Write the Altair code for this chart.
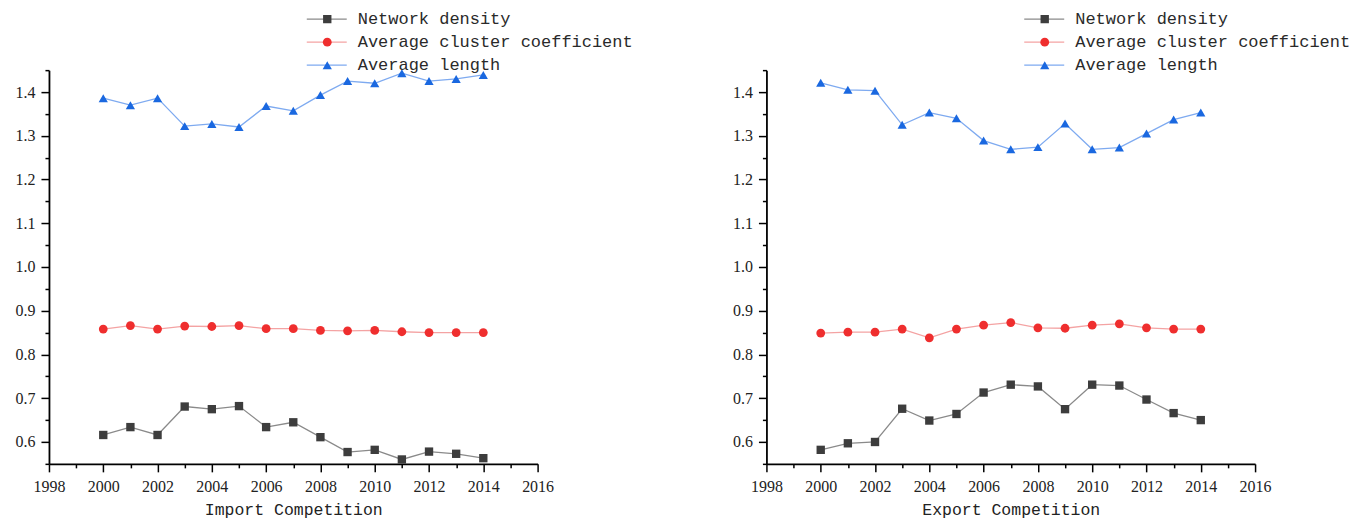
import altair as alt
import pandas as pd

years = list(range(2000, 2015))
series = ["Network density", "Average cluster coefficient", "Average length"]

imp_density = [0.616, 0.634, 0.616, 0.681, 0.675, 0.682, 0.634, 0.645, 0.611, 0.577, 0.582, 0.560, 0.578, 0.573, 0.563]
imp_cluster = [0.858, 0.866, 0.858, 0.865, 0.864, 0.866, 0.859, 0.859, 0.855, 0.854, 0.855, 0.852, 0.850, 0.850, 0.850]
imp_length = [1.386, 1.370, 1.386, 1.322, 1.327, 1.320, 1.368, 1.357, 1.393, 1.425, 1.420, 1.443, 1.425, 1.430, 1.439]

exp_density = [0.582, 0.597, 0.600, 0.676, 0.649, 0.664, 0.713, 0.731, 0.727, 0.675, 0.731, 0.729, 0.697, 0.666, 0.650]
exp_cluster = [0.849, 0.851, 0.851, 0.858, 0.838, 0.858, 0.867, 0.873, 0.861, 0.860, 0.867, 0.870, 0.861, 0.858, 0.858]
exp_length = [1.421, 1.405, 1.403, 1.325, 1.353, 1.340, 1.289, 1.269, 1.274, 1.328, 1.269, 1.273, 1.305, 1.337, 1.353]

x_ticks = list(range(1998, 2017))
y_ticks = [round(0.55 + 0.05 * i, 2) for i in range(19)]

line_colors = ["#8a8a8a", "#f4a3a3", "#7eaaf0"]
marker_colors = ["#3d3d3d", "#ef2e2e", "#1a68e0"]
shapes = ["square", "circle", "triangle-up"]
marker_sizes = [70, 85, 135]

MONO = "Liberation Mono"
SERIF = "Liberation Serif"


def make_df(d, c, l):
    rows = []
    for name, vals in zip(series, [d, c, l]):
        for y, v in zip(years, vals):
            rows.append({"year": y, "value": v, "series": name, "line_series": name})
    return pd.DataFrame(rows)


def panel(df, title):
    xaxis = alt.Axis(
        values=x_ticks,
        format="d",
        labelExpr="datum.value % 2 === 0 ? datum.label : ''",
        tickSize={"condition": {"test": "datum.value % 2 === 0", "value": 8}, "value": 4},
        grid=False,
        labelFont=SERIF,
        labelFontSize=16,
        labelColor="#222222",
        labelPadding=7,
        labelFlush=False,
        labelOverlap=False,
        domainColor="black",
        domainWidth=1.8,
        tickColor="black",
        tickWidth=1.5,
        title=title,
        titleFont=MONO,
        titleFontSize=16.5,
        titleFontWeight="normal",
        titleColor="#222222",
        titlePadding=7,
    )
    yaxis = alt.Axis(
        values=y_ticks,
        labelExpr="round(datum.value*100) % 10 === 0 ? format(datum.value, '.1f') : ''",
        tickSize={"condition": {"test": "round(datum.value*100) % 10 === 0", "value": 8}, "value": 4},
        grid=False,
        labelFont=SERIF,
        labelFontSize=16,
        labelColor="#222222",
        labelPadding=6,
        labelFlush=False,
        labelOverlap=False,
        domainColor="black",
        domainWidth=1.8,
        tickColor="black",
        tickWidth=1.5,
        title=None,
    )
    base = alt.Chart(df).encode(
        x=alt.X("year:Q", scale=alt.Scale(domain=[1998, 2016], nice=False, zero=False), axis=xaxis),
        y=alt.Y("value:Q", scale=alt.Scale(domain=[0.55, 1.45], nice=False, zero=False), axis=yaxis),
    )
    line_legend = alt.Legend(
        title=None, orient="none", legendX=257, legendY=-59.5, padding=0,
        symbolType="stroke", symbolSize=1600, symbolStrokeWidth=1.2,
        clipHeight=17, rowPadding=5, labelExpr="''",
        labelFont=MONO, labelFontSize=17,
    )
    pt_legend = alt.Legend(
        title=None, orient="none", legendX=270, legendY=-59.5, padding=0,
        symbolSize=85, symbolStrokeWidth=0, symbolOpacity=1,
        clipHeight=17, rowPadding=5, labelOffset=22, labelLimit=0,
        labelFont=MONO, labelFontSize=17, labelColor="#2a2a2a",
    )
    lines = base.mark_line(strokeWidth=1.3).encode(
        color=alt.Color("line_series:N", scale=alt.Scale(domain=series, range=line_colors), legend=line_legend),
    )
    pts = base.mark_point(filled=True, opacity=1).encode(
        color=alt.Color("series:N", scale=alt.Scale(domain=series, range=marker_colors), legend=pt_legend),
        shape=alt.Shape("series:N", scale=alt.Scale(domain=series, range=shapes), legend=pt_legend),
        size=alt.Size("series:N", scale=alt.Scale(domain=series, range=marker_sizes), legend=None),
    )
    return (
        alt.layer(lines, pts)
        .resolve_scale(color="independent", shape="independent", size="independent")
        .resolve_legend(color="independent", shape="independent", size="independent")
        .properties(width=489, height=394)
    )


left = panel(make_df(imp_density, imp_cluster, imp_length), "Import Competition")
right = panel(make_df(exp_density, exp_cluster, exp_length), "Export Competition")

chart = (
    alt.hconcat(left, right, spacing=229, bounds="flush")
    .resolve_scale(color="independent", shape="independent", size="independent")
    .resolve_legend(color="independent", shape="independent", size="independent")
    .properties(padding={"left": 15, "top": 10, "right": 0, "bottom": 0}, background="white")
    .configure_view(stroke=None)
)

chart.save("out.html", embed_options={"renderer": "svg", "actions": False})
